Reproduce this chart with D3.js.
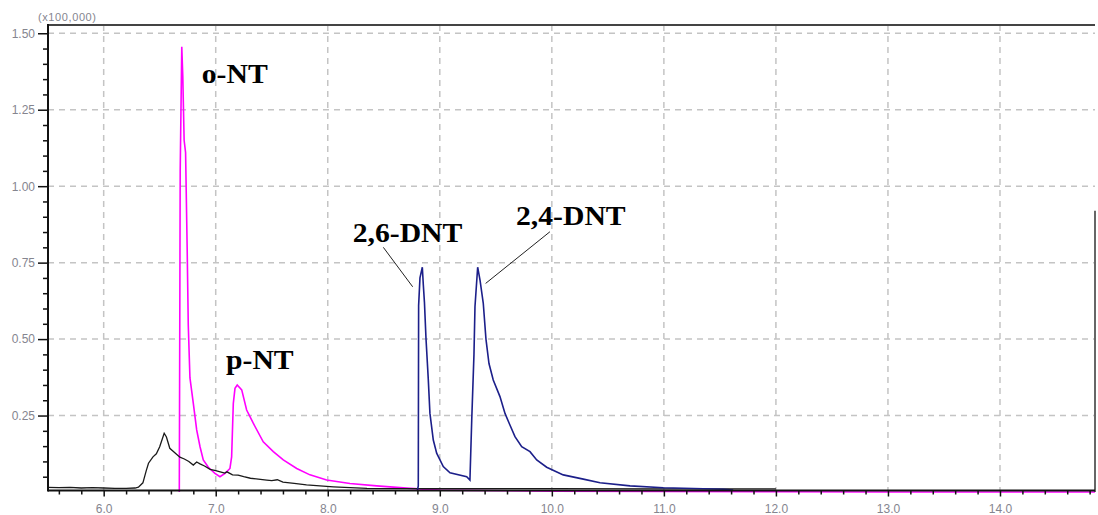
<!DOCTYPE html>
<html>
<head>
<meta charset="utf-8">
<script src="https://cdn.jsdelivr.net/npm/d3@7"></script>
<style>
  html, body { margin: 0; padding: 0; background: #fff; }
  svg { display: block; }
</style>
</head>
<body>
<svg id="chart" width="1098" height="515"></svg>
<script>
// ---------- data ----------
const xMajorTicks = [6, 7, 8, 9, 10, 11, 12, 13, 14];
const yMajorTicks = [0.25, 0.5, 0.75, 1.0, 1.25, 1.5];
const yUnitLabel = "(x100,000)";

// black trace
const blackTrace = [
  [5.50,0.015],[5.60,0.014],[5.70,0.015],[5.80,0.013],[5.90,0.014],[6.00,0.013],
  [6.10,0.012],[6.20,0.012],[6.28,0.013],[6.31,0.016],[6.35,0.030],[6.38,0.070],
  [6.40,0.094],[6.44,0.115],[6.47,0.125],[6.50,0.148],[6.54,0.192],[6.56,0.180],
  [6.59,0.143],[6.63,0.130],[6.68,0.114],[6.72,0.108],[6.76,0.100],[6.80,0.088],
  [6.83,0.098],[6.86,0.092],[6.90,0.085],[6.95,0.074],[7.00,0.070],[7.04,0.066],
  [7.08,0.062],[7.10,0.066],[7.15,0.056],[7.20,0.055],[7.25,0.050],[7.31,0.045],
  [7.38,0.042],[7.455,0.039],[7.50,0.037],[7.55,0.040],[7.60,0.032],[7.70,0.028],
  [7.81,0.023],[7.90,0.021],[8.05,0.017],[8.20,0.014],[8.35,0.012],[9.00,0.011],
  [10.0,0.011],[11.0,0.010],[12.0,0.010]
];

// magenta trace (o-NT, p-NT)
const magentaTrace = [
  [6.675,0.0],[6.683,1.05],[6.697,1.456],[6.706,1.36],[6.718,1.15],[6.731,1.11],
  [6.745,0.80],[6.755,0.546],[6.770,0.373],[6.800,0.290],[6.830,0.203],[6.860,0.148],
  [6.889,0.105],[6.934,0.081],[6.993,0.061],[7.038,0.050],[7.083,0.061],[7.127,0.077],
  [7.142,0.115],[7.157,0.290],[7.172,0.339],[7.192,0.350],[7.232,0.334],[7.276,0.268],
  [7.335,0.225],[7.424,0.164],[7.514,0.132],[7.603,0.105],[7.723,0.077],[7.841,0.056],
  [7.990,0.039],[8.198,0.028],[8.437,0.020],[8.734,0.012],[9.00,0.006],[10.0,0.003],
  [11.0,0.002],[12.0,0.001],[13.0,0.0],[14.0,0.0],[14.848,0.0]
];

// blue trace (2,6-DNT, 2,4-DNT)
const blueTrace = [
  [8.800,0.005],[8.808,0.02],[8.811,0.61],[8.823,0.70],[8.844,0.735],[8.853,0.677],
  [8.863,0.62],[8.877,0.50],[8.897,0.37],[8.912,0.257],[8.942,0.170],[8.972,0.127],
  [9.031,0.083],[9.091,0.063],[9.240,0.050],[9.269,0.039],[9.285,0.235],[9.305,0.45],
  [9.314,0.606],[9.338,0.735],[9.359,0.693],[9.388,0.617],[9.412,0.50],[9.439,0.42],
  [9.477,0.366],[9.537,0.312],[9.582,0.257],[9.626,0.219],[9.671,0.181],[9.731,0.148],
  [9.805,0.132],[9.865,0.105],[9.954,0.081],[10.102,0.056],[10.281,0.042],[10.430,0.030],
  [10.698,0.020],[10.995,0.014],[11.530,0.009],[11.619,0.006]
];

// edge trace at right end
const edgeTrace = [[14.848,0.0],[14.848,0.92]];

// peak labels: [text, t, value]
const peakLabels = [
  ["o-NT", 6.875, 1.336],
  ["p-NT", 7.092, 0.401],
  ["2,6-DNT", 8.222, 0.8185],
  ["2,4-DNT", 9.680, 0.873]
];
// leader lines: [t1, v1, t2, v2]
const leaders = [
  [8.496, 0.800, 8.758, 0.671],
  [9.983, 0.851, 9.409, 0.682]
];

// ---------- layout ----------
const svg = d3.select("#chart");
const padL = 48, padR = 1095, padT = 25, padB = 492;
const x = d3.scaleLinear().domain([5.503, 14.848]).range([padL, padR]);
const y = d3.scaleLinear().domain([0, 1.527]).range([padB, padT]);

svg.append("rect").attr("width", 1098).attr("height", 515).attr("fill", "#fff");

// grid
const grid = svg.append("g").attr("stroke", "#c4c4c4").attr("stroke-width", 1.5)
  .attr("stroke-dasharray", "6,5");
grid.selectAll(".vg").data(xMajorTicks).join("line")
  .attr("x1", d => x(d)).attr("x2", d => x(d))
  .attr("y1", padT).attr("y2", 490);
grid.selectAll(".hg").data(yMajorTicks).join("line")
  .attr("x1", padL).attr("x2", padR)
  .attr("y1", d => y(d)).attr("y2", d => y(d));

// top border
svg.append("line").attr("x1", padL).attr("x2", padR).attr("y1", padT).attr("y2", padT)
  .attr("stroke", "#444").attr("stroke-width", 2);

// traces
const line = d3.line().x(d => x(d[0])).y(d => y(d[1]));
svg.append("path").datum(magentaTrace).attr("d", line)
  .attr("fill", "none").attr("stroke", "#ff00ff").attr("stroke-width", 1.6);
svg.append("path").datum(blackTrace).attr("d", line)
  .attr("fill", "none").attr("stroke", "#1a1a1a").attr("stroke-width", 1.3);
svg.append("path").datum(blueTrace).attr("d", line)
  .attr("fill", "none").attr("stroke", "#1c1f8a").attr("stroke-width", 1.6);
svg.append("path").datum(edgeTrace).attr("d", line)
  .attr("fill", "none").attr("stroke", "#666").attr("stroke-width", 2);

// axes
const axisColor = "#111";
const labelColor = "#85858f";
const xMinor = d3.range(56, 149, 2).map(v => v / 10).filter(v => !xMajorTicks.some(m => Math.abs(m - v) < 1e-6));
const yMinor = d3.range(1, 31).map(v => v * 0.05).filter(v => !yMajorTicks.some(m => Math.abs(m - v) < 1e-6));

const gx = svg.append("g").attr("transform", "translate(0,490.5)");
gx.call(d3.axisBottom(x).tickValues(xMajorTicks).tickFormat(d3.format(".1f")).tickSize(6).tickPadding(8));
const gxm = svg.append("g").attr("transform", "translate(0,490.5)");
gxm.call(d3.axisBottom(x).tickValues(xMinor).tickFormat("").tickSize(4));

const gy = svg.append("g").attr("transform", "translate(48,0)");
gy.call(d3.axisLeft(y).tickValues(yMajorTicks).tickFormat(d3.format(".2f")).tickSize(10).tickPadding(3));
const gym = svg.append("g").attr("transform", "translate(48,0)");
gym.call(d3.axisLeft(y).tickValues(yMinor).tickFormat("").tickSize(5));

[gx, gxm, gy, gym].forEach(g => {
  g.selectAll("line").attr("stroke", axisColor).attr("stroke-width", 1.5);
  g.select(".domain").remove();
  g.selectAll("text").attr("fill", labelColor)
    .style("font-family", "'Liberation Sans', Arial, sans-serif").style("font-size", "12px");
});

// axis lines
svg.append("line").attr("x1", padL).attr("x2", padR).attr("y1", 490.5).attr("y2", 490.5)
  .attr("stroke", axisColor).attr("stroke-width", 2);
svg.append("line").attr("x1", padL).attr("x2", padL).attr("y1", padT - 1).attr("y2", 491.5)
  .attr("stroke", axisColor).attr("stroke-width", 2);

// unit label
svg.append("text").attr("x", 38).attr("y", 21).text(yUnitLabel)
  .attr("fill", labelColor).style("font-family", "'Liberation Sans', Arial, sans-serif")
  .style("font-size", "11px").style("letter-spacing", "0.6px");

// leaders
svg.selectAll(".leader").data(leaders).join("line")
  .attr("x1", d => x(d[0])).attr("y1", d => y(d[1]))
  .attr("x2", d => x(d[2])).attr("y2", d => y(d[3]))
  .attr("stroke", "#222").attr("stroke-width", 1);

// peak labels
svg.selectAll(".plabel").data(peakLabels).join("text")
  .attr("transform", d => `translate(${x(d[1])},${y(d[2])}) scale(1.1,1)`)
  .text(d => d[0])
  .attr("fill", "#000")
  .style("font-family", "'Liberation Serif', 'Times New Roman', serif")
  .style("font-weight", "bold").style("font-size", "27px");
</script>
</body>
</html>
